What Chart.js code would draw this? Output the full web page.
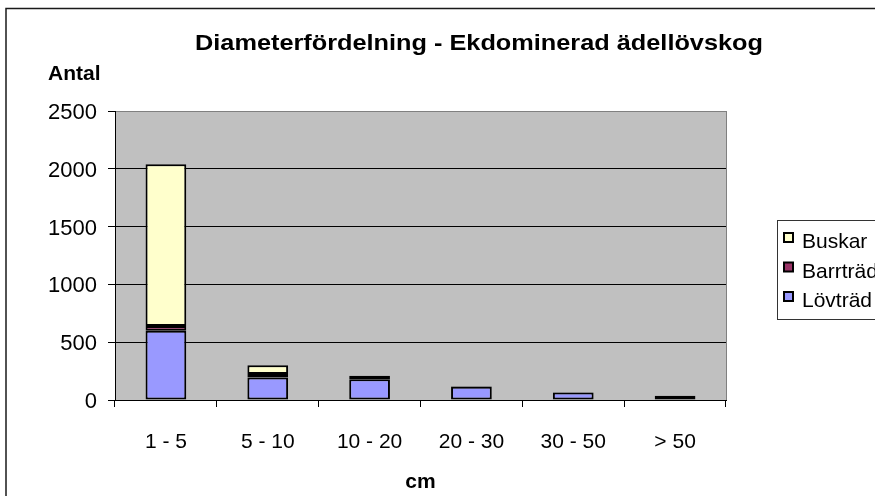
<!DOCTYPE html>
<html>
<head>
<meta charset="utf-8">
<script src="https://cdn.jsdelivr.net/npm/chart.js@4/dist/chart.umd.min.js"></script>
<style>
  html, body { margin: 0; padding: 0; background: #fff; overflow: hidden; }
  #wrap { position: absolute; left: 0; top: 0; width: 960px; height: 540px; }
</style>
</head>
<body>
<div id="wrap"><canvas id="c" width="960" height="540"></canvas></div>
<script>
// Diameter classes (cm) and stem counts per class
const categories = ['1 - 5', '5 - 10', '10 - 20', '20 - 30', '30 - 50', '> 50'];
const lovtrad  = [600, 195, 180, 115, 65, 35];
const barrtrad = [40, 30, 30, 5, 3, 2];
const buskar   = [1400, 75, 0, 0, 0, 0];
const yTicks   = [0, 500, 1000, 1500, 2000, 2500];

const FONT = '"Liberation Sans", Arial, Helvetica, sans-serif';

// Frame, plot background, title, axis captions and legend box
const decor = {
  id: 'decor',
  beforeDraw(chart) {
    const { ctx, chartArea: a } = chart;
    ctx.save();
    ctx.fillStyle = '#fff';
    ctx.fillRect(0, 0, chart.width, chart.height);
    ctx.strokeStyle = '#1a1a1a';
    ctx.lineWidth = 1.5;
    ctx.strokeRect(6, 8.5, 944, 524);
    ctx.fillStyle = '#C0C0C0';
    ctx.fillRect(a.left, a.top, a.right - a.left, a.bottom - a.top);
    ctx.restore();
  },
  beforeDatasetsDraw(chart) {
    const { ctx, chartArea: a } = chart;
    ctx.save();
    ctx.strokeStyle = '#808080';
    ctx.lineWidth = 1;
    ctx.beginPath();
    ctx.moveTo(a.right + 0.5, a.top);
    ctx.lineTo(a.right + 0.5, a.bottom);
    ctx.stroke();
    ctx.restore();
  },
  afterDraw(chart) {
    const { ctx, chartArea: a } = chart;
    ctx.save();
    ctx.fillStyle = '#000';
    ctx.textBaseline = 'alphabetic';
    // title, set slightly wide
    ctx.save();
    ctx.translate(479, 50);
    ctx.scale(1.15, 1);
    ctx.font = 'bold 22px ' + FONT;
    ctx.textAlign = 'center';
    ctx.fillText('Diameterfördelning - Ekdominerad ädellövskog', 0, 0);
    ctx.restore();
    ctx.font = 'bold 21px ' + FONT;
    ctx.textAlign = 'left';
    ctx.fillText('Antal', 48, 80);
    ctx.textAlign = 'center';
    ctx.fillText('cm', (a.left + a.right) / 2, 488);

    // legend, listed top to bottom in stack order
    const lx = 777.5, ly = 220.5;
    ctx.strokeStyle = '#333';
    ctx.lineWidth = 1;
    ctx.fillStyle = '#fff';
    ctx.fillRect(lx, ly, 200, 99);
    ctx.strokeRect(lx, ly, 200, 99);
    const items = chart.data.datasets.slice().reverse();
    ctx.font = '21px ' + FONT;
    ctx.textAlign = 'left';
    items.forEach((ds, i) => {
      const base = 248 + i * 29.5;
      ctx.fillStyle = ds.backgroundColor;
      ctx.fillRect(784, base - 15, 9, 9);
      ctx.strokeStyle = '#000';
      ctx.lineWidth = 2;
      ctx.strokeRect(784, base - 15, 9, 9);
      ctx.fillStyle = '#000';
      ctx.fillText(ds.label, 802, base);
    });
    ctx.restore();
  }
};

new Chart(document.getElementById('c'), {
  type: 'bar',
  data: {
    labels: categories,
    datasets: [
      { label: 'Lövträd',  data: lovtrad,  backgroundColor: '#9999FF' },
      { label: 'Barrträd', data: barrtrad, backgroundColor: '#993366' },
      { label: 'Buskar',   data: buskar,   backgroundColor: '#FFFFCC' }
    ]
  },
  options: {
    responsive: false,
    animation: false,
    layout: { padding: { left: 0, right: 234, top: 111, bottom: 0 } },
    datasets: {
      bar: {
        borderColor: '#000',
        borderWidth: 2,
        borderSkipped: false,
        categoryPercentage: 1,
        barPercentage: 0.4
      }
    },
    plugins: {
      legend: { display: false },
      title: { display: false },
      tooltip: { enabled: false }
    },
    scales: {
      x: {
        stacked: true,
        afterFit(s) { s.height = 140; },
        grid: {
          offset: true,
          drawOnChartArea: false,
          drawTicks: true,
          tickLength: 7,
          tickColor: '#000',
          color: '#000'
        },
        border: { display: true, color: '#000', width: 1 },
        ticks: { color: '#000', font: { family: FONT, size: 21 }, padding: 23, maxRotation: 0 }
      },
      y: {
        stacked: true,
        min: yTicks[0],
        max: yTicks[yTicks.length - 1],
        afterFit(s) { s.width = 115; },
        afterBuildTicks(s) { s.ticks = yTicks.map(v => ({ value: v })); },
        grid: {
          drawTicks: true,
          tickLength: 7,
          tickColor: '#000',
          color: c => (c.tick && c.tick.value === 2500) ? '#808080' : '#000',
          lineWidth: 1
        },
        border: { display: true, color: '#000', width: 1 },
        ticks: {
          color: '#000',
          font: { family: FONT, size: 22 },
          padding: 11,
          labelOffset: 2,
          callback: v => String(v)
        }
      }
    }
  },
  plugins: [decor]
});
</script>
</body>
</html>
